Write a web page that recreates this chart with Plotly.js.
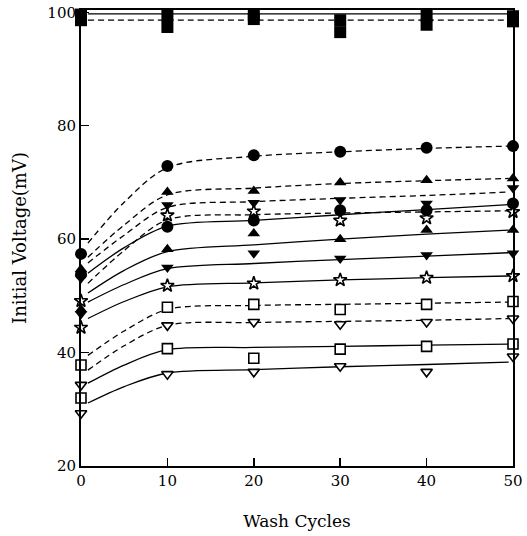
<!DOCTYPE html>
<html>
<head>
<meta charset="utf-8">
<script src="https://cdn.plot.ly/plotly-3.0.1.min.js"></script>
<style>html,body{margin:0;padding:0;background:#fff;}#chart{width:527px;height:536px;}</style>
</head>
<body>
<div id="chart"></div>
<script>
// Wash cycles (x) for measured points
const cycles = [0, 10, 20, 30, 40, 50];

// Measured initial voltages (mV) — dashed-curve group
const sqFilledDash  = [98.6, 97.4, 98.8, 96.5, 97.8, 98.4];
const circleDash    = [57.4, 72.9, 74.8, 75.4, 76.1, 76.4];
const triUpDash     = [54.7, 68.3, 68.5, 70.0, 70.4, 70.7];
const triDownDash   = [53.1, 66.0, 66.4, 66.9, 66.3, 69.0];
const starDash      = [49.1, 64.2, 64.9, 63.3, 63.7, 64.8];
const sqOpenDash    = [37.8, 48.0, 48.5, 47.6, 48.5, 49.0];
const triOpenDash   = [34.3, 44.8, 45.4, 45.0, 45.4, 46.0];

// Measured initial voltages (mV) — solid-curve group
const sqFilledSolid = [99.6, 99.5, 99.5, 98.6, 99.4, 99.3];
const circleSolid   = [53.8, 62.2, 63.3, 65.1, 65.1, 66.3];
const triUpSolid    = [47.6, 58.2, 61.0, 60.0, 61.6, 61.6];
const triDownSolid  = [46.8, 55.0, 57.5, 56.6, 57.2, 57.5];
const starSolid     = [44.4, 51.8, 52.2, 52.8, 53.2, 53.5];
const sqOpenSolid   = [32.0, 40.7, 39.0, 40.6, 41.1, 41.5];
const triOpenSolid  = [29.3, 36.2, 36.6, 37.6, 36.6, 39.3];

// Fitted curves at these cycle values
const fitX = [0.8, 5, 10, 20, 30, 40, 49.5];
const fitSqFilledDash  = [98.6, 98.6, 98.6, 98.6, 98.6, 98.6, 98.6];
const fitCircleDash    = [59.3, 66.5, 72.6, 74.6, 75.4, 76.0, 76.4];
const fitTriUpDash     = [56.8, 62.5, 67.8, 69.0, 69.8, 70.3, 70.7];
const fitTriDownDash   = [55.8, 60.7, 65.6, 66.6, 67.2, 67.7, 68.3];
const fitStarDash      = [52.2, 58.0, 63.4, 64.3, 64.6, 64.8, 65.0];
const fitSqOpenDash    = [39.5, 43.8, 47.6, 48.3, 48.5, 48.7, 48.9];
const fitTriOpenDash   = [36.9, 41.2, 44.8, 45.3, 45.5, 45.7, 46.0];
const fitSqFilledSolid = [99.7, 99.7, 99.7, 99.7, 99.7, 99.7, 99.7];
const fitCircleSolid   = [54.0, 58.5, 62.3, 63.3, 64.3, 65.2, 66.1];
const fitTriUpSolid    = [50.5, 54.5, 57.8, 59.0, 60.0, 60.9, 61.6];
const fitTriDownSolid  = [48.9, 52.0, 54.8, 55.7, 56.4, 57.0, 57.6];
const fitStarSolid     = [46.0, 49.0, 51.6, 52.3, 52.8, 53.2, 53.5];
const fitSqOpenSolid   = [34.6, 37.8, 40.5, 40.9, 41.1, 41.3, 41.5];
const fitTriOpenSolid  = [31.1, 34.0, 36.4, 37.0, 37.5, 37.9, 38.3];

const xTicks = [0, 10, 20, 30, 40, 50];
const yTicks = [20, 40, 60, 80, 100];

const INK = '#000';
const DASH = '6px,4px';

function curve(y, dashed) {
  return {x: fitX, y: y, mode: 'lines', type: 'scatter', hoverinfo: 'skip',
    line: {color: INK, width: 1.3, shape: 'spline', smoothing: 0.9, dash: dashed ? DASH : 'solid'},
    cliponaxis: false, showlegend: false};
}
function pts(y, symbol, size, hollow) {
  return {x: cycles, y: y, mode: 'markers', type: 'scatter', cliponaxis: false, showlegend: false,
    marker: {symbol: symbol, size: size, color: hollow ? '#fff' : INK,
      line: {color: INK, width: hollow ? 1.6 : 0}}};
}

const traces = [
  curve(fitSqFilledDash, true), curve(fitCircleDash, true), curve(fitTriUpDash, true),
  curve(fitTriDownDash, true), curve(fitStarDash, true), curve(fitSqOpenDash, true),
  curve(fitTriOpenDash, true),
  curve(fitSqFilledSolid, false), curve(fitCircleSolid, false), curve(fitTriUpSolid, false),
  curve(fitTriDownSolid, false), curve(fitStarSolid, false), curve(fitSqOpenSolid, false),
  curve(fitTriOpenSolid, false),
  pts(sqOpenDash, 'square', 10, true), pts(sqOpenSolid, 'square', 10, true),
  pts(triOpenDash, 'triangle-down', 10, true), pts(triOpenSolid, 'triangle-down', 10, true),
  pts(starDash, 'star', 10, true), pts(starSolid, 'star', 10, true),
  pts(sqFilledDash, 'square', 12), pts(sqFilledSolid, 'square', 12),
  pts(circleDash, 'circle', 12), pts(circleSolid, 'circle', 12),
  pts(triUpDash, 'triangle-up', 11), pts(triUpSolid, 'triangle-up', 11),
  pts(triDownDash, 'triangle-down', 11), pts(triDownSolid, 'triangle-down', 11)
];

const FONT = 'DejaVu Serif, Liberation Serif, serif';
const layout = {
  width: 527, height: 536,
  margin: {l: 81, r: 14, t: 10, b: 70},
  paper_bgcolor: '#fff', plot_bgcolor: '#fff',
  showlegend: false,
  font: {family: FONT, color: INK, size: 15},
  xaxis: {
    range: [0, 50], tickvals: xTicks, ticktext: xTicks.map(String),
    ticks: 'inside', ticklen: 8, tickwidth: 1.5, tickcolor: INK,
    showline: true, linewidth: 2, linecolor: INK, mirror: true,
    showgrid: false, zeroline: false,
    tickfont: {family: FONT, size: 15, color: INK},
    title: {text: 'Wash Cycles', font: {family: FONT, size: 17, color: INK}, standoff: 26}
  },
  yaxis: {
    range: [20, 100.4], tickvals: yTicks, ticktext: yTicks.map(String),
    ticks: 'inside', ticklen: 8, tickwidth: 1.5, tickcolor: INK,
    showline: true, linewidth: 2, linecolor: INK, mirror: true,
    showgrid: false, zeroline: false,
    tickfont: {family: FONT, size: 15, color: INK},
    title: {text: 'Initial Voltage(mV)', font: {family: FONT, size: 18, color: INK}, standoff: 16}
  }
};

Plotly.newPlot('chart', traces, layout, {staticPlot: true, displayModeBar: false});
</script>
</body>
</html>
